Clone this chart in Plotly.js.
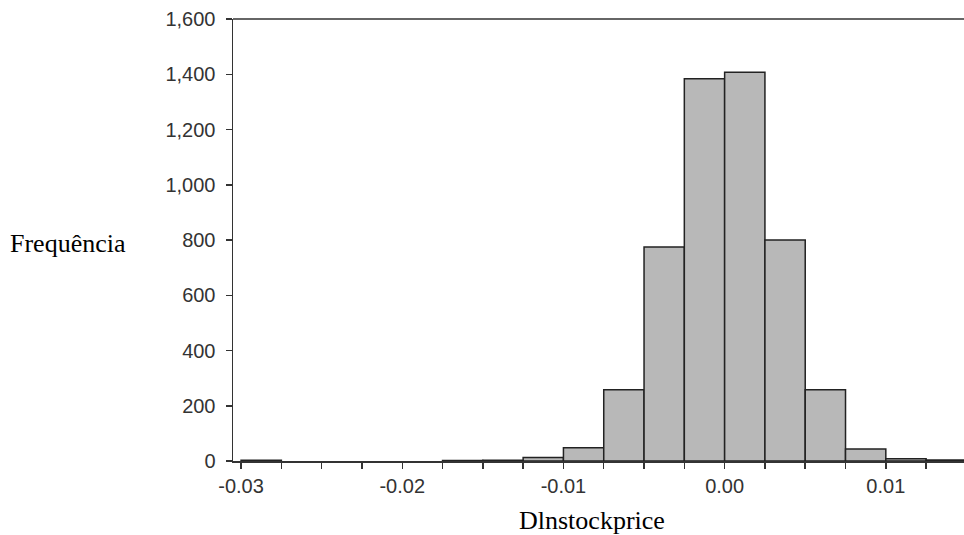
<!DOCTYPE html>
<html>
<head>
<meta charset="utf-8">
<script src="https://cdn.plot.ly/plotly-3.0.1.min.js"></script>
<style>html,body{margin:0;padding:0;background:#fff;}#chart{width:964px;height:535px;}</style>
</head>
<body>
<div id="chart"></div>
<script>
// Bin left edges (width 0.0025) and frequencies
const binStarts = [-0.03, -0.0175, -0.015, -0.0125, -0.01, -0.0075, -0.005, -0.0025, 0.0, 0.0025, 0.005, 0.0075, 0.01, 0.0125];
const counts    = [3, 2, 3, 13, 48, 258, 775, 1384, 1407, 800, 258, 43, 8, 4];
const binWidth = 0.0025;
const xTickVals = [-0.03, -0.02, -0.01, 0.0, 0.01];
const xTickText = ["-0.03", "-0.02", "-0.01", "0.00", "0.01"];
const xTitle = "Dlnstockprice";
const yTitle = "Frequência";

const centers = binStarts.map(s => s + binWidth / 2);

const trace = {
  type: 'bar',
  x: centers,
  y: counts,
  width: binWidth,
  marker: {color: '#b8b8b8', line: {color: '#222', width: 1.5}},
  hoverinfo: 'x+y'
};

const tickFont = {family: 'Liberation Sans, Arial, sans-serif', size: 20, color: '#333'};
const titleFont = {family: 'Liberation Serif, Times New Roman, serif', size: 26, color: '#000'};

const layout = {
  width: 964, height: 535,
  margin: {l: 233, r: 0, t: 19, b: 74},
  paper_bgcolor: '#fff', plot_bgcolor: '#fff',
  showlegend: false,
  bargap: 0,
  xaxis: {
    range: [-0.0305, 0.01485],
    tickmode: 'array', tickvals: xTickVals, ticktext: xTickText,
    ticks: 'outside', ticklen: 6, tickwidth: 1.5, tickcolor: '#333',
    minor: {dtick: 0.0025, tick0: 0, ticks: 'outside', ticklen: 6, tickwidth: 1.5, tickcolor: '#333', showgrid: false},
    showline: true, linecolor: '#333', linewidth: 1.5, mirror: false,
    showgrid: false, zeroline: false,
    ticklabelstandoff: 0,
    tickfont: tickFont
  },
  yaxis: {
    range: [0, 1600],
    dtick: 200,
    tickformat: ',d',
    ticks: 'outside', ticklen: 6, tickwidth: 1.5, tickcolor: '#333',
    showline: true, linecolor: '#333', linewidth: 1.5,
    showgrid: false, zeroline: false,
    ticklabelstandoff: 6,
    tickfont: tickFont
  },
  shapes: [{
    type: 'line', xref: 'paper', yref: 'paper', x0: 0, x1: 1, y0: 1, y1: 1,
    line: {color: '#333', width: 1.5}
  }],
  annotations: [{
    text: yTitle, xref: 'paper', yref: 'paper', x: -0.1436, y: 0.493,
    xanchor: 'right', yanchor: 'middle', showarrow: false,
    font: titleFont
  }, {
    text: xTitle, xref: 'paper', yref: 'paper', x: 0.491, y: -0.1335,
    xanchor: 'center', yanchor: 'middle', showarrow: false,
    font: titleFont
  }]
};

Plotly.newPlot('chart', [trace], layout, {displayModeBar: false, staticPlot: true});
</script>
</body>
</html>
